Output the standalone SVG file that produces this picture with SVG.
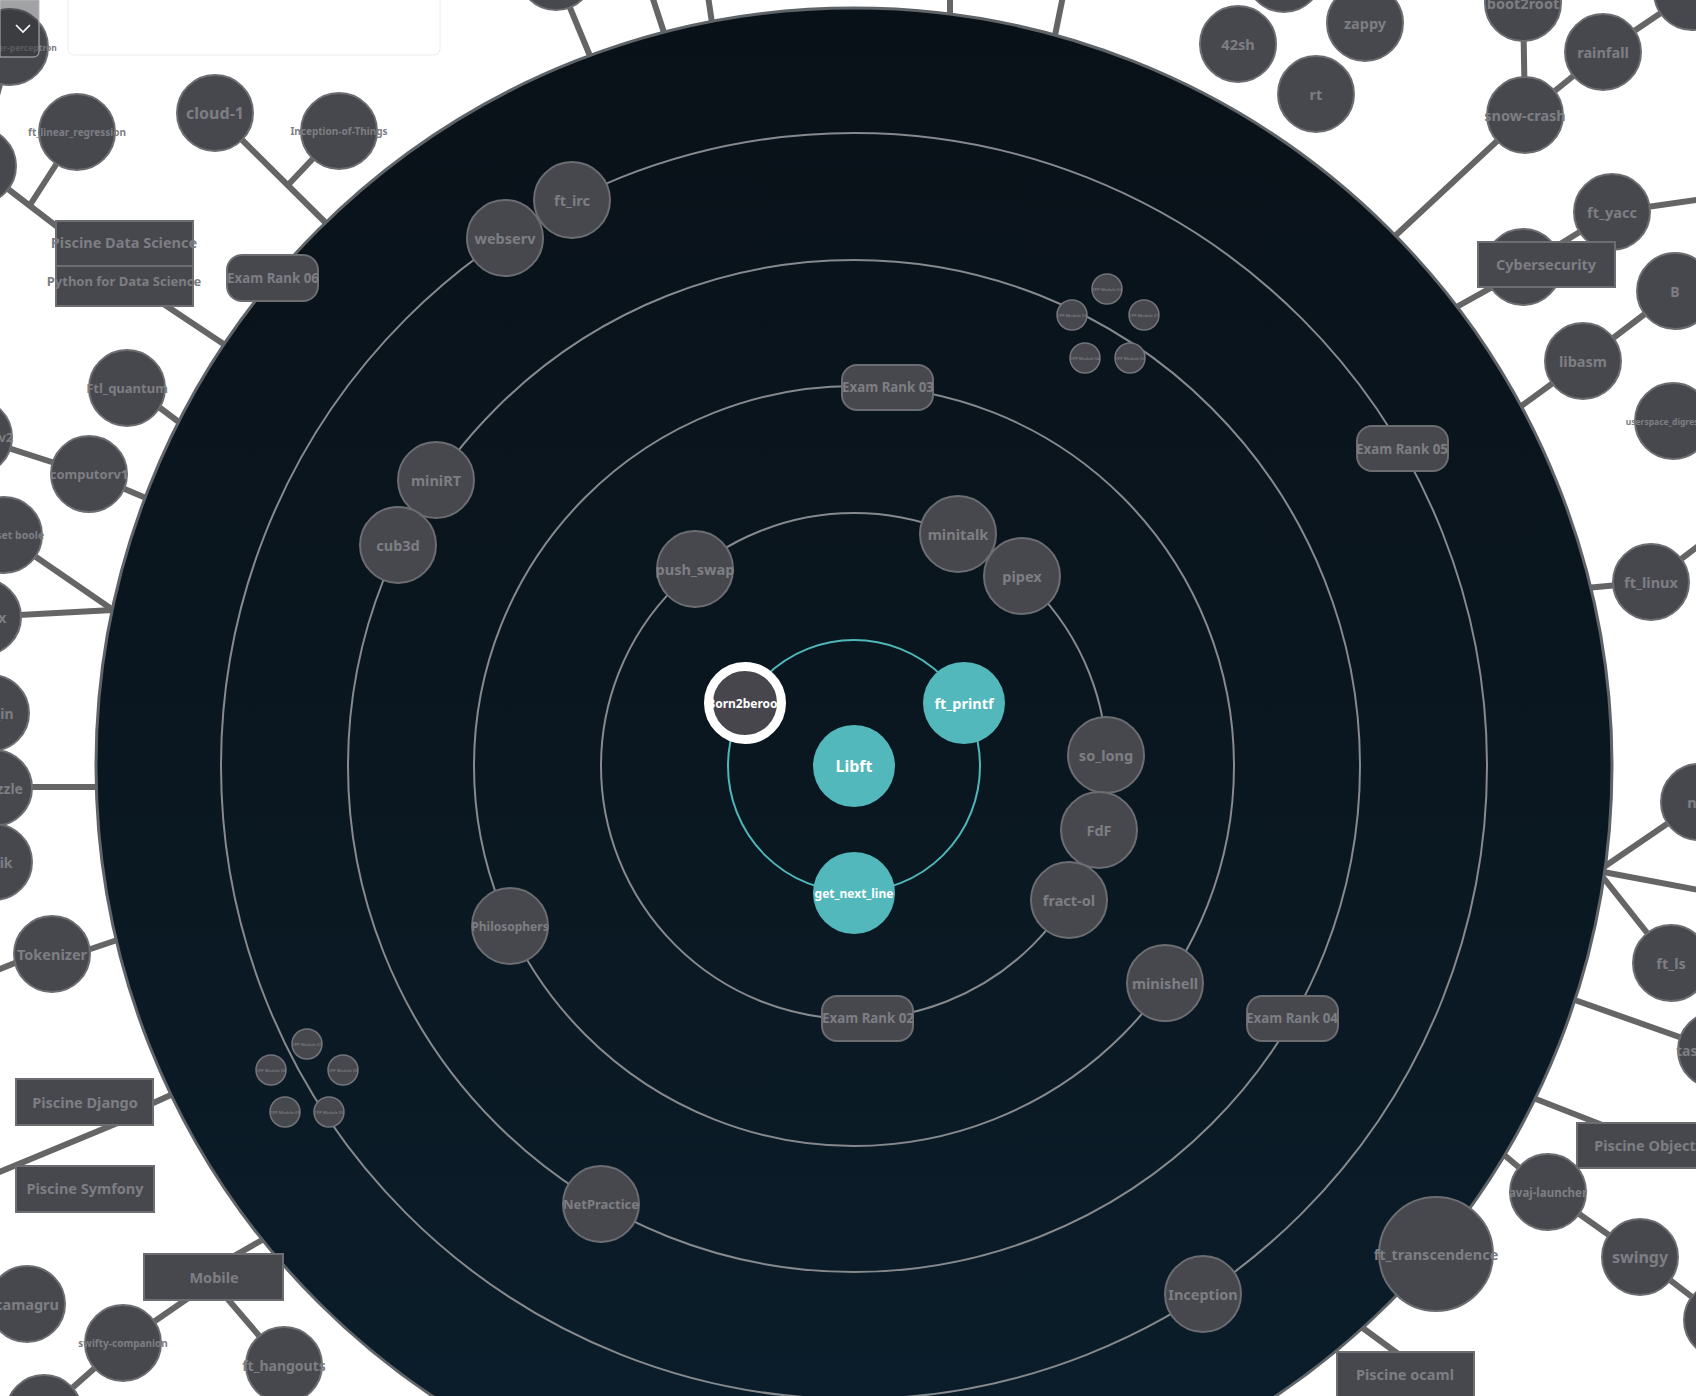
<svg xmlns="http://www.w3.org/2000/svg" width="1696" height="1396" viewBox="0 0 1696 1396">
<defs>
<linearGradient id="space" x1="0" y1="0" x2="0" y2="1">
<stop offset="0" stop-color="#091118"/>
<stop offset="0.5" stop-color="#0a1720"/>
<stop offset="1" stop-color="#0b1e2c"/>
</linearGradient>
<style>
.n circle,.n rect{fill:#47484d;stroke:#6b6d71;stroke-width:2}
text{font-family:"Noto Sans","Open Sans","DejaVu Sans",sans-serif;font-weight:700;text-anchor:middle;dominant-baseline:central;fill:#7d7e83}
.c line{stroke:#656565;stroke-width:6}
.orbit{fill:none;stroke:#86898d;stroke-width:2}
.core circle{fill:#52b8bc;stroke:none}
.core text{fill:#ffffff}
.m circle{fill:#47484d;stroke:#727479;stroke-width:1.5}
.m text{font-size:4.2px;fill:#8b8c91;font-weight:400}
.s8{font-size:8.5px}.s9{font-size:10px}.s10{font-size:10.5px}.s11{font-size:11.5px}.s12{font-size:12px}.s13{font-size:13px}.s135{font-size:13.3px}.s14{font-size:14px}.s15{font-size:14.5px}.s16{font-size:16px}
</style>
</defs>
<rect width="1696" height="1396" fill="#ffffff"/>
<rect x="68" y="-12" width="372" height="67" rx="6" fill="#ffffff" stroke="#ececec" stroke-width="1"/>

<g id="connectors" class="c">
<line x1="10" y1="47" x2="-22" y2="166"/>
<line x1="-22" y1="166" x2="124" y2="278"/>
<line x1="77" y1="132" x2="30" y2="205"/>
<line x1="150" y1="295" x2="270" y2="375"/>
<line x1="215" y1="113" x2="340" y2="237"/>
<line x1="339" y1="131" x2="288" y2="185"/>
<line x1="127" y1="383" x2="200" y2="438"/>
<line x1="-26" y1="437" x2="89" y2="474"/>
<line x1="89" y1="474" x2="165" y2="506"/>
<line x1="4" y1="535" x2="113" y2="610"/>
<line x1="-17" y1="617" x2="113" y2="610"/>
<line x1="-6" y1="787" x2="115" y2="787"/>
<line x1="-20" y1="977" x2="52" y2="948"/>
<line x1="52" y1="962" x2="135" y2="934"/>
<line x1="140" y1="1109" x2="195" y2="1084"/>
<line x1="-20" y1="1180" x2="120" y2="1122"/>
<line x1="220" y1="1264" x2="285" y2="1227"/>
<line x1="200" y1="1290" x2="123" y2="1343"/>
<line x1="220" y1="1290" x2="284" y2="1365"/>
<line x1="123" y1="1343" x2="44" y2="1413"/>
<line x1="1345" y1="1315" x2="1405" y2="1359"/>
<line x1="1548" y1="1192" x2="1490" y2="1143"/>
<line x1="1548" y1="1192" x2="1640" y2="1257"/>
<line x1="1640" y1="1257" x2="1722" y2="1320"/>
<line x1="1500" y1="1085" x2="1610" y2="1128"/>
<line x1="1716" y1="1050" x2="1555" y2="993"/>
<line x1="1598" y1="871" x2="1699" y2="802"/>
<line x1="1598" y1="871" x2="1730" y2="896"/>
<line x1="1598" y1="871" x2="1671" y2="963"/>
<line x1="1651" y1="582" x2="1575" y2="589"/>
<line x1="1651" y1="582" x2="1710" y2="537"/>
<line x1="1583" y1="361" x2="1505" y2="418"/>
<line x1="1583" y1="361" x2="1675" y2="291"/>
<line x1="1530" y1="266" x2="1435" y2="319"/>
<line x1="1523" y1="267" x2="1612" y2="212"/>
<line x1="1612" y1="212" x2="1710" y2="198"/>
<line x1="1525" y1="115" x2="1380" y2="250"/>
<line x1="1525" y1="115" x2="1523" y2="3"/>
<line x1="1525" y1="115" x2="1603" y2="52"/>
<line x1="1603" y1="52" x2="1692" y2="-8"/>
<line x1="556" y1="-26" x2="600" y2="80"/>
<line x1="652" y1="-4" x2="673" y2="60"/>
<line x1="708" y1="-4" x2="716" y2="50"/>
<line x1="950" y1="-4" x2="950" y2="35"/>
<line x1="1063" y1="-4" x2="1050" y2="60"/>
</g>

<g id="space-disc">
<circle cx="854" cy="766" r="758" fill="url(#space)" stroke="#5f6468" stroke-width="3"/>
<circle class="orbit" cx="854" cy="766" r="253"/>
<circle class="orbit" cx="854" cy="766" r="380"/>
<circle class="orbit" cx="854" cy="766" r="506"/>
<circle class="orbit" cx="854" cy="766" r="633"/>
<circle cx="854" cy="766" r="126" fill="none" stroke="#4fb6b9" stroke-width="2"/>
</g>

<g id="node-libft" class="core"><circle cx="854" cy="766" r="41"/><text x="854" y="766" class="s16">Libft</text></g>
<g id="node-ft_printf" class="core"><circle cx="964" cy="703" r="41"/><text x="964" y="703" class="s15">ft_printf</text></g>
<g id="node-get_next_line" class="core"><circle cx="854" cy="893" r="41"/><text x="854" y="893" class="s12">get_next_line</text></g>
<g id="node-born2beroot" class="core"><circle cx="745" cy="703" r="36.5" style="fill:#47464c;stroke:#ffffff;stroke-width:9"/><text x="745" y="703" class="s12">Born2beroot</text></g>

<g id="node-push_swap" class="n"><circle cx="695" cy="569" r="38"/><text x="695" y="569" class="s15">push_swap</text></g>
<g id="node-minitalk" class="n"><circle cx="958" cy="534" r="38"/><text x="958" y="534" class="s15">minitalk</text></g>
<g id="node-pipex" class="n"><circle cx="1022" cy="576" r="38"/><text x="1022" y="576" class="s15">pipex</text></g>
<g id="node-so_long" class="n"><circle cx="1106" cy="755" r="38"/><text x="1106" y="755" class="s15">so_long</text></g>
<g id="node-fdf" class="n"><circle cx="1099" cy="830" r="38"/><text x="1099" y="830" class="s15">FdF</text></g>
<g id="node-fract-ol" class="n"><circle cx="1069" cy="900" r="38"/><text x="1069" y="900" class="s15">fract-ol</text></g>
<g id="node-exam02" class="n"><rect x="822" y="996" width="91" height="45" rx="15"/><text x="868" y="1018" class="s135">Exam Rank 02</text></g>

<g id="node-exam03" class="n"><rect x="842" y="365" width="91" height="45" rx="15"/><text x="888" y="387" class="s135">Exam Rank 03</text></g>
<g id="node-philosophers" class="n"><circle cx="510" cy="926" r="38"/><text x="510" y="926" class="s12">Philosophers</text></g>
<g id="node-minishell" class="n"><circle cx="1165" cy="983" r="38"/><text x="1165" y="983" class="s15">minishell</text></g>

<g id="node-minirt" class="n"><circle cx="436" cy="480" r="38"/><text x="436" y="480" class="s15">miniRT</text></g>
<g id="node-cub3d" class="n"><circle cx="398" cy="545" r="38"/><text x="398" y="545" class="s15">cub3d</text></g>
<g id="node-netpractice" class="n"><circle cx="601" cy="1204" r="38"/><text x="601" y="1204" class="s13">NetPractice</text></g>
<g id="node-exam04" class="n"><rect x="1247" y="996" width="91" height="45" rx="15"/><text x="1292" y="1018" class="s135">Exam Rank 04</text></g>

<g id="node-cpp02" class="m"><circle cx="1107" cy="289" r="15"/><text x="1107" y="289">CPP Module 02</text></g>
<g id="node-cpp03" class="m"><circle cx="1072" cy="315" r="15"/><text x="1072" y="315">CPP Module 03</text></g>
<g id="node-cpp01" class="m"><circle cx="1144" cy="315" r="15"/><text x="1144" y="315">CPP Module 01</text></g>
<g id="node-cpp04" class="m"><circle cx="1085" cy="358" r="15"/><text x="1085" y="358">CPP Module 04</text></g>
<g id="node-cpp00" class="m"><circle cx="1130" cy="358" r="15"/><text x="1130" y="358">CPP Module 00</text></g>

<g id="node-cpp07" class="m"><circle cx="307" cy="1044" r="15"/><text x="307" y="1044">CPP Module 07</text></g>
<g id="node-cpp08" class="m"><circle cx="271" cy="1070" r="15"/><text x="271" y="1070">CPP Module 08</text></g>
<g id="node-cpp06" class="m"><circle cx="343" cy="1070" r="15"/><text x="343" y="1070">CPP Module 06</text></g>
<g id="node-cpp09" class="m"><circle cx="285" cy="1112" r="15"/><text x="285" y="1112">CPP Module 09</text></g>
<g id="node-cpp05" class="m"><circle cx="329" cy="1112" r="15"/><text x="329" y="1112">CPP Module 05</text></g>

<g id="node-webserv" class="n"><circle cx="505" cy="238" r="38"/><text x="505" y="238" class="s15">webserv</text></g>
<g id="node-ft_irc" class="n"><circle cx="572" cy="200" r="38"/><text x="572" y="200" class="s15">ft_irc</text></g>
<g id="node-exam05" class="n"><rect x="1357" y="426" width="91" height="45" rx="15"/><text x="1402" y="449" class="s135">Exam Rank 05</text></g>
<g id="node-inception" class="n"><circle cx="1203" cy="1294" r="38"/><text x="1203" y="1294" class="s15">Inception</text></g>
<g id="node-ft_transcendence" class="n"><circle cx="1436" cy="1254" r="57"/><text x="1436" y="1254" class="s15">ft_transcendence</text></g>
<g id="node-exam06" class="n"><rect x="227" y="255" width="91" height="46" rx="15"/><text x="273" y="278" class="s135">Exam Rank 06</text></g>

<g id="node-multilayer-perceptron" class="n"><circle cx="10" cy="47" r="38"/><text x="10" y="47" class="s8">multilayer-perceptron</text></g>
<g id="node-left-a" class="n"><circle cx="-22" cy="166" r="38"/></g>
<g id="node-ft_linear_regression" class="n"><circle cx="77" cy="132" r="38"/><text x="77" y="132" class="s9">ft_linear_regression</text></g>
<g id="node-cloud-1" class="n"><circle cx="215" cy="113" r="38"/><text x="215" y="113" class="s16">cloud-1</text></g>
<g id="node-inception-of-things" class="n"><circle cx="339" cy="131" r="38"/><text x="339" y="131" class="s9">Inception-of-Things</text></g>
<g id="node-piscine-data-science" class="n"><rect x="56" y="221" width="137" height="45"/><text x="124" y="242" class="s15">Piscine Data Science</text></g>
<g id="node-python-data-science" class="n"><rect x="56" y="266" width="137" height="40"/><text x="124" y="281" class="s13">Python for Data Science</text></g>
<g id="node-ftl_quantum" class="n"><circle cx="127" cy="388" r="38"/><text x="127" y="388" class="s13">Ftl_quantum</text></g>
<g id="node-computorv2" class="n"><circle cx="-26" cy="437" r="38"/><text x="-26" y="437" class="s13">computorv2</text></g>
<g id="node-computorv1" class="n"><circle cx="89" cy="474" r="38"/><text x="89" y="474" class="s13">computorv1</text></g>
<g id="node-ready-set-boole" class="n"><circle cx="4" cy="535" r="38"/><text x="4" y="535" class="s10">ready set boole</text></g>
<g id="node-matrix" class="n"><circle cx="-17" cy="617" r="38"/><text x="-17" y="617" class="s14">matrix</text></g>
<g id="node-lem_in" class="n"><circle cx="-9" cy="713" r="38"/><text x="-9" y="713" class="s14">lem_in</text></g>
<g id="node-n-puzzle" class="n"><circle cx="-6" cy="788" r="38"/><text x="-6" y="788" class="s14">n-puzzle</text></g>
<g id="node-rubik" class="n"><circle cx="-6" cy="862" r="38"/><text x="-6" y="862" class="s14">rubik</text></g>
<g id="node-tokenizer" class="n"><circle cx="52" cy="954" r="38"/><text x="52" y="954" class="s15">Tokenizer</text></g>
<g id="node-piscine-django" class="n"><rect x="16" y="1079" width="137" height="46"/><text x="85" y="1102" class="s15">Piscine Django</text></g>
<g id="node-piscine-symfony" class="n"><rect x="16" y="1166" width="138" height="46"/><text x="85" y="1188" class="s15">Piscine Symfony</text></g>
<g id="node-camagru" class="n"><circle cx="27" cy="1304" r="38"/><text x="27" y="1304" class="s15">camagru</text></g>
<g id="node-mobile" class="n"><rect x="144" y="1254" width="139" height="46"/><text x="214" y="1277" class="s15">Mobile</text></g>
<g id="node-swifty-companion" class="n"><circle cx="123" cy="1343" r="38"/><text x="123" y="1343" class="s9">swifty-companion</text></g>
<g id="node-ft_hangouts" class="n"><circle cx="284" cy="1365" r="38"/><text x="284" y="1365" class="s14">ft_hangouts</text></g>
<g id="node-bottom-left" class="n"><circle cx="44" cy="1413" r="38"/></g>

<g id="node-top-left" class="n"><circle cx="556" cy="-28" r="38"/></g>
<g id="node-top-mid" class="n"><circle cx="1284" cy="-26" r="38"/></g>
<g id="node-42sh" class="n"><circle cx="1238" cy="44" r="38"/><text x="1238" y="44" class="s15">42sh</text></g>
<g id="node-zappy" class="n"><circle cx="1365" cy="23" r="38"/><text x="1365" y="23" class="s15">zappy</text></g>
<g id="node-rt" class="n"><circle cx="1316" cy="94" r="38"/><text x="1316" y="94" class="s15">rt</text></g>
<g id="node-boot2root" class="n"><circle cx="1523" cy="3" r="38"/><text x="1523" y="3" class="s15">boot2root</text></g>
<g id="node-top-right" class="n"><circle cx="1692" cy="-8" r="38"/></g>
<g id="node-rainfall" class="n"><circle cx="1603" cy="52" r="38"/><text x="1603" y="52" class="s15">rainfall</text></g>
<g id="node-snow-crash" class="n"><circle cx="1525" cy="115" r="38"/><text x="1525" y="115" class="s15">snow-crash</text></g>
<g id="node-ft_yacc" class="n"><circle cx="1612" cy="212" r="38"/><text x="1612" y="212" class="s15">ft_yacc</text></g>
<g id="node-cyber-hidden" class="n"><circle cx="1523" cy="267" r="38"/></g>
<g id="node-cybersecurity" class="n"><rect x="1478" y="242" width="137" height="45"/><text x="1546" y="264" class="s15">Cybersecurity</text></g>
<g id="node-b" class="n"><circle cx="1675" cy="291" r="38"/><text x="1675" y="291" class="s14">B</text></g>
<g id="node-libasm" class="n"><circle cx="1583" cy="361" r="38"/><text x="1583" y="361" class="s15">libasm</text></g>
<g id="node-userspace_digressions" class="n"><circle cx="1673" cy="421" r="38"/><text x="1673" y="421" class="s8">userspace_digressions</text></g>
<g id="node-ft_linux" class="n"><circle cx="1651" cy="582" r="38"/><text x="1651" y="582" class="s15">ft_linux</text></g>
<g id="node-nm" class="n"><circle cx="1699" cy="802" r="38"/><text x="1699" y="802" class="s15">nm</text></g>
<g id="node-ft_ls" class="n"><circle cx="1671" cy="963" r="38"/><text x="1671" y="963" class="s15">ft_ls</text></g>
<g id="node-taskmaster" class="n"><circle cx="1716" cy="1050" r="38"/><text x="1716" y="1050" class="s14">taskmaster</text></g>
<g id="node-piscine-object" class="n"><rect x="1577" y="1123" width="137" height="45"/><text x="1645" y="1145" class="s15">Piscine Object</text></g>
<g id="node-avaj-launcher" class="n"><circle cx="1548" cy="1192" r="38"/><text x="1548" y="1192" class="s11">avaj-launcher</text></g>
<g id="node-swingy" class="n"><circle cx="1640" cy="1257" r="38"/><text x="1640" y="1257" class="s16">swingy</text></g>
<g id="node-bottom-right" class="n"><circle cx="1722" cy="1320" r="38"/></g>
<g id="node-piscine-ocaml" class="n"><rect x="1337" y="1352" width="137" height="46"/><text x="1405" y="1374" class="s15">Piscine ocaml</text></g>

<g id="dropdown">
<path d="M0 0 H39 V51 Q39 57 33 57 H0 Z" fill="#2f3034" fill-opacity="0.45" stroke="#b9babd" stroke-width="1"/>
<path d="M16 25 L23 32 L30 25" fill="none" stroke="#ffffff" stroke-width="1.6"/>
</g>
</svg>
